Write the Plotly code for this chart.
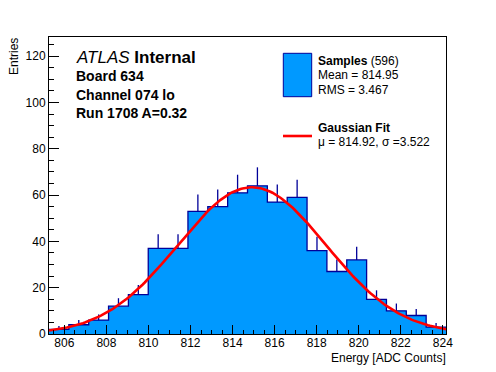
import numpy as np
import plotly.graph_objects as go

# ---- data ----
hist_min = 805.27
hist_max = 824.15
counts = [2, 4, 6, 12, 17, 37, 37, 53, 55, 61, 64, 57, 59, 36, 27, 32, 15, 10, 8, 3]
fit_mu = 814.92
fit_sigma = 3.522
fit_amplitude = 63.4
x_ticks = [806, 808, 810, 812, 814, 816, 818, 820, 822, 824]
y_ticks = [0, 20, 40, 60, 80, 100, 120]
y_max = 128.3

text_lines = ["<i>ATLAS</i> <b>Internal</b>", "<b>Board 634</b>", "<b>Channel 074 lo</b>",
              "<b>Run 1708 A=0.32</b>"]
legend_samples = ["<b>Samples</b> (596)", "Mean = 814.95", "RMS = 3.467"]
legend_fit = ["<b>Gaussian Fit</b>", "\u03bc = 814.92, \u03c3 =3.522"]

FILL = "#0099ff"
EDGE = "#000099"
FONT = "Liberation Sans, Arial, Helvetica, sans-serif"

counts = np.array(counts, dtype=float)
nb = len(counts)
edges = np.linspace(hist_min, hist_max, nb + 1)
centers = 0.5 * (edges[:-1] + edges[1:])

fig = go.Figure()

# histogram fill + step outline
step_x = list(edges)
step_y = list(counts) + [counts[-1]]
fig.add_trace(go.Scatter(x=step_x, y=step_y, mode="lines", line=dict(shape="hv", color=EDGE, width=1.3),
                         fill="tozeroy", fillcolor=FILL, hoverinfo="skip"))

# upward error bars
ex, ey = [], []
for c, v in zip(centers, counts):
    ex += [c, c, None]
    ey += [v, v + np.sqrt(v), None]
fig.add_trace(go.Scatter(x=ex, y=ey, mode="lines", line=dict(color=EDGE, width=1.3), hoverinfo="skip"))

# gaussian fit
fx = np.linspace(hist_min, hist_max, 200)
fy = fit_amplitude * np.exp(-0.5 * ((fx - fit_mu) / fit_sigma) ** 2)
fig.add_trace(go.Scatter(x=fx, y=fy, mode="lines", line=dict(color="#ff0000", width=2.6), hoverinfo="skip"))

# page body has an 8px margin; figure sized so it fills the window
OFF = 8
W, H = 496 - OFF, 372 - OFF
L, R, T, B = 49 - OFF, 50, 37 - OFF, 38
pw, ph = W - L - R, H - T - B


def px(x):  # screen pixel -> paper
    return (x - OFF - L) / pw


def py(y):
    return (OFF + H - B - y) / ph


ann = []
ann.append(dict(text=text_lines[0], x=px(74), y=py(57), font=dict(size=17)))
for i, t in enumerate(text_lines[1:]):
    ann.append(dict(text=t, x=px(74), y=py(75.8 + i * 18.8), font=dict(size=14)))
for t, yy in zip(legend_samples, [60.8, 75.1, 89.8]):
    ann.append(dict(text=t, x=px(316), y=py(yy), font=dict(size=12)))
for t, yy in zip(legend_fit, [128.1, 141.8]):
    ann.append(dict(text=t, x=px(316), y=py(yy), font=dict(size=12)))
annotations = []
for a in ann:
    a.update(xref="paper", yref="paper", xanchor="left", yanchor="middle", showarrow=False)
    a["font"].update(family=FONT, color="black")
    annotations.append(a)
annotations.append(dict(text="Entries", xref="paper", yref="paper", x=px(13.5), y=py(37), xanchor="center",
                        yanchor="top", textangle=-90, showarrow=False, borderpad=0,
                        font=dict(family=FONT, size=12, color="black")))
annotations.append(dict(text="Energy [ADC Counts]", xref="paper", yref="paper", x=px(446.5), y=py(357.5),
                        xanchor="right", yanchor="middle", showarrow=False, borderpad=0,
                        font=dict(family=FONT, size=12, color="black")))

shapes = [
    dict(type="rect", xref="paper", yref="paper", x0=px(283.3), x1=px(311.7), y0=py(96.7), y1=py(53.3),
         fillcolor=FILL, line=dict(color=EDGE, width=1)),
    dict(type="line", xref="paper", yref="paper", x0=px(283), x1=px(312), y0=py(136), y1=py(136),
         line=dict(color="#ff0000", width=2.6)),
]

fig.update_layout(
    width=W, height=H, margin=dict(l=L, r=R, t=T, b=B, pad=0, autoexpand=False),
    paper_bgcolor="white", plot_bgcolor="white", showlegend=False,
    font=dict(family=FONT, size=12, color="black"),
    annotations=annotations, shapes=shapes,
    xaxis=dict(range=[hist_min, hist_max], tickvals=x_ticks, ticktext=[str(v) for v in x_ticks],
               ticks="inside", ticklen=9, tickwidth=1, tickcolor="black", ticklabelstandoff=-2,
               minor=dict(ticks="inside", ticklen=4.5, dtick=0.5, tick0=806, tickcolor="black"),
               showline=True, linecolor="black", linewidth=1, mirror=True, showgrid=False, zeroline=False,
               tickfont=dict(size=12)),
    yaxis=dict(range=[0, y_max], tickvals=y_ticks, ticktext=[str(v) for v in y_ticks],
               ticks="inside", ticklen=10, tickwidth=1, tickcolor="black",
               minor=dict(ticks="inside", ticklen=5, dtick=5, tick0=0, tickcolor="black"),
               showline=True, linecolor="black", linewidth=1, mirror=True, showgrid=False, zeroline=False,
               tickfont=dict(size=12)),
)

fig.write_html("out.html")
